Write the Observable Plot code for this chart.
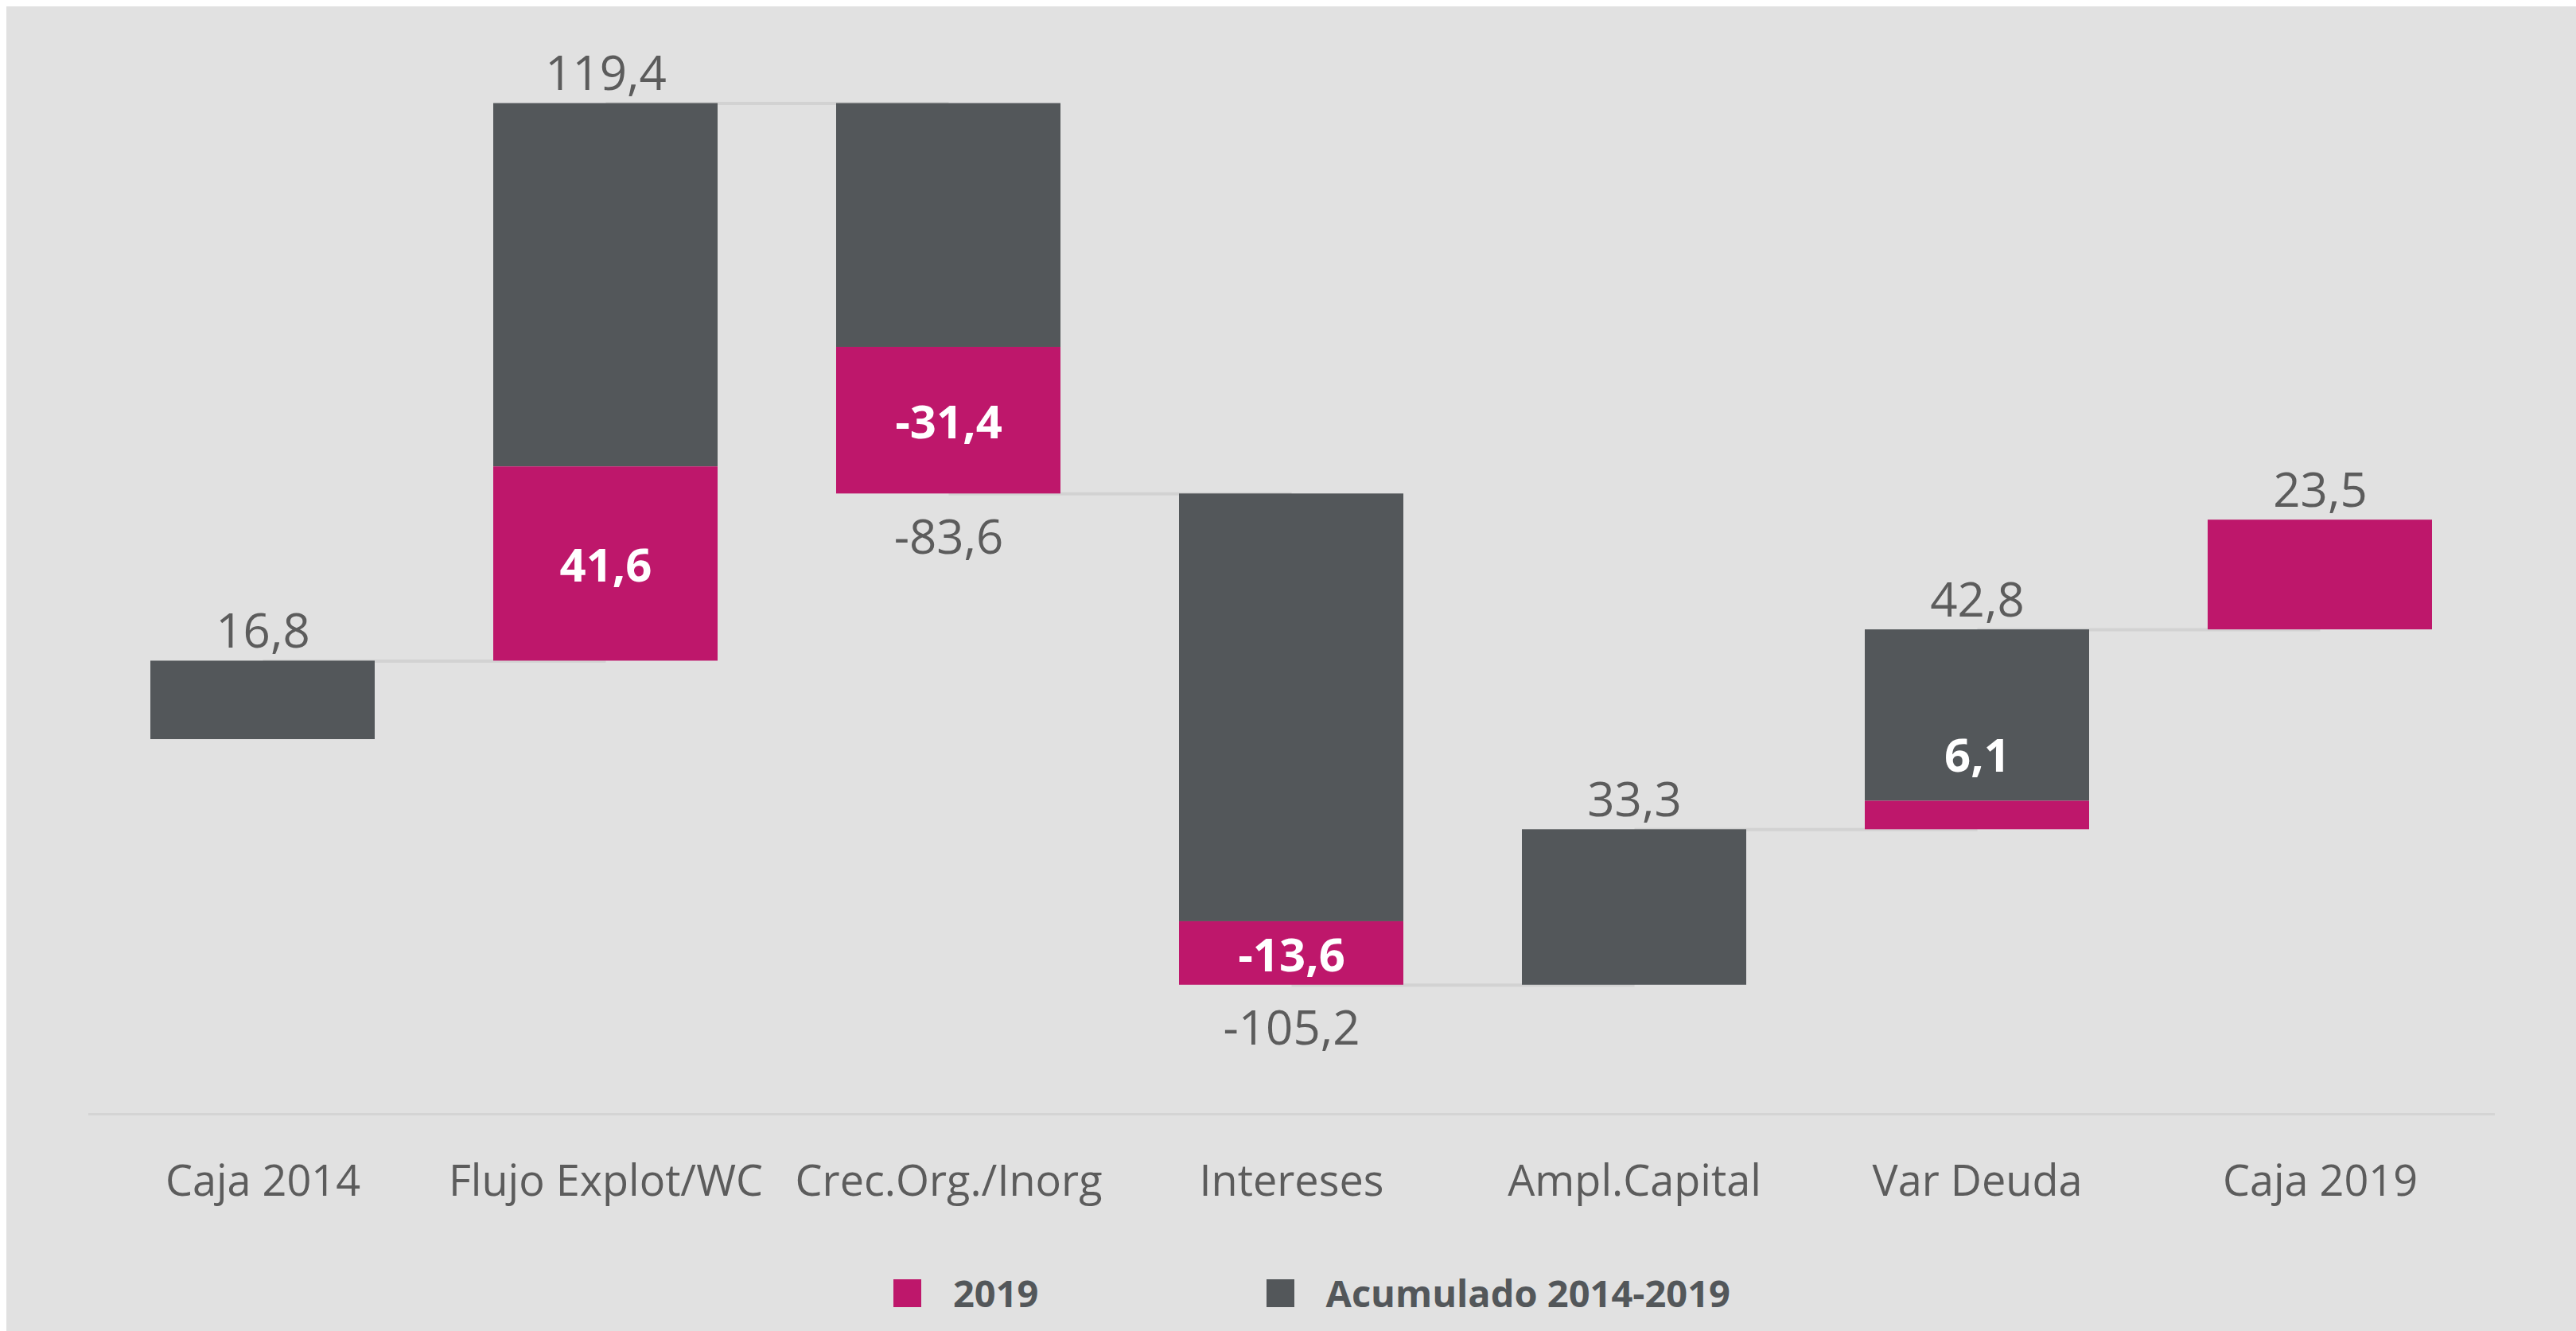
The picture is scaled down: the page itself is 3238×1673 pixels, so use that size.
<!DOCTYPE html>
<html>
<head>
<meta charset="utf-8">
<script src="https://cdn.jsdelivr.net/npm/d3@7"></script>
<script src="https://cdn.jsdelivr.net/npm/@observablehq/plot@0.6"></script>
<style>
  html, body { margin: 0; padding: 0; background: #ffffff; overflow: hidden; }
  body { padding: 8px 0 0 8px; }
  #chart { position: relative; width: 3230px; height: 1665px; background: #e1e1e1; font-family: "Open Sans", sans-serif; }
  #legend { position: absolute; left: 1115px; top: 1585px; display: flex; align-items: center; font-weight: 700; font-size: 47px; color: #53575a; }
  #legend .item { display: flex; align-items: center; }
  #legend .sw { width: 35px; height: 35px; display: inline-block; margin-right: 40px; }
</style>
</head>
<body>
<div id="chart"></div>
<script>
const categories = ["Caja 2014", "Flujo Explot/WC", "Crec.Org./Inorg", "Intereses", "Ampl.Capital", "Var Deuda", "Caja 2019"];
const totals = [16.8, 119.4, -83.6, -105.2, 33.3, 42.8, 23.5];
const values2019 = [0, 41.6, -31.4, -13.6, 0, 6.1, 23.5];
const seriesNames = ["2019", "Acumulado 2014-2019"];
const seriesColors = ["#be176b", "#53575a"];

// build waterfall rows
let run = 0;
const rows = categories.map((c, i) => {
  const start = run;
  const end = run + totals[i];
  run = end;
  const lo = Math.min(start, end), hi = Math.max(start, end);
  const p = Math.abs(values2019[i]);
  return {cat: c, i, start, end, lo, hi, pinkTop: lo + p, p, total: totals[i], v: values2019[i],
          next: categories[i + 1]};
});
const fmt = v => v.toFixed(1).replace(".", ",");
const links = rows.filter(r => r.next);
const darkRows = rows.filter(r => r.hi - r.pinkTop > 0.01);
const pinkRows = rows.filter(r => r.p > 0);
const innerBig = rows.filter(r => r.p > 10 && r.i !== 6);
const innerSmall = rows.filter(r => r.p > 0 && r.p <= 10);

const chart = Plot.plot({
  width: 3230,
  height: 1542,
  marginLeft: 104,
  marginRight: 104,
  marginTop: 40,
  marginBottom: 150,
  style: {background: "transparent", fontFamily: "Open Sans, sans-serif", fontSize: "54px", color: "#5c5c5c"},
  x: {domain: categories, paddingInner: 0.345, paddingOuter: 0.1725, label: null},
  y: {domain: [-80.24, 150.1], axis: null},
  marks: [
    Plot.frame({anchor: "bottom", stroke: "#d4d4d4", strokeWidth: 3}),
    Plot.link(links, {x1: "cat", x2: "next", y1: "end", y2: "end", stroke: "#d2d2d2", strokeWidth: 4}),
    Plot.barY(darkRows, {x: "cat", y1: "pinkTop", y2: "hi", fill: seriesColors[1]}),
    Plot.barY(pinkRows, {x: "cat", y1: "lo", y2: "pinkTop", fill: seriesColors[0]}),
    Plot.text(rows.filter(r => r.total > 0), {x: "cat", y: "hi", text: d => fmt(d.total), dy: -36, fontSize: 60, fill: "#5c5c5c"}),
    Plot.text(rows.filter(r => r.total < 0), {x: "cat", y: "lo", text: d => fmt(d.total), dy: 56, fontSize: 60, fill: "#5c5c5c"}),
    Plot.text(innerBig, {x: "cat", y: d => (d.lo + d.pinkTop) / 2, text: d => fmt(d.v), dy: 4, fontSize: 58, fontWeight: 700, fill: "#ffffff"}),
    Plot.text(innerSmall, {x: "cat", y: "pinkTop", text: d => fmt(d.v), dy: -56, fontSize: 58, fontWeight: 700, fill: "#ffffff"}),
    Plot.axisX({tickSize: 0, tickPadding: 64, fontSize: 54, color: "#5c5c5c", label: null})
  ]
});
const container = document.getElementById("chart");
container.appendChild(chart);

const legend = document.createElement("div");
legend.id = "legend";
seriesNames.forEach((name, k) => {
  const item = document.createElement("div");
  item.className = "item";
  if (k > 0) item.style.marginLeft = "286px";
  const sw = document.createElement("span");
  sw.className = "sw";
  sw.style.background = seriesColors[k];
  const t = document.createElement("span");
  t.textContent = name;
  item.appendChild(sw);
  item.appendChild(t);
  legend.appendChild(item);
});
container.appendChild(legend);
</script>
</body>
</html>
